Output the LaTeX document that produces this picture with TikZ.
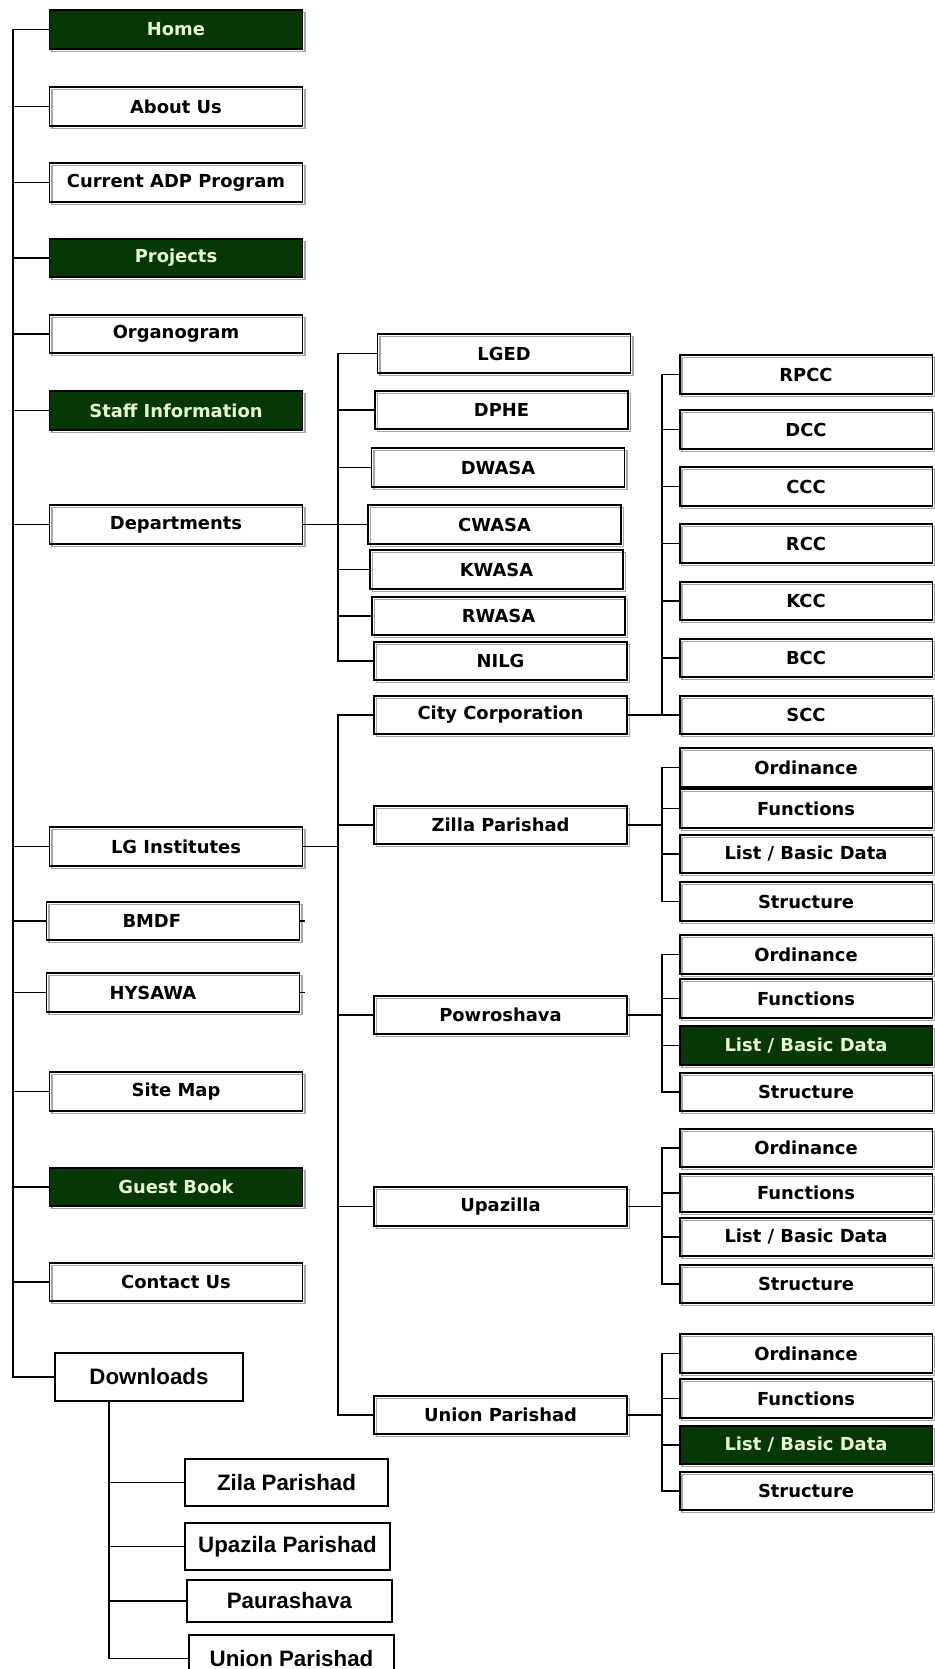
\documentclass[tikz,border=0pt]{standalone}
\usepackage{fontspec}
\setmainfont{DejaVu Sans}
\newfontfamily\dlfont{Liberation Sans}
\definecolor{menugreen}{HTML}{063806}
\definecolor{menutext}{HTML}{E8F6D4}

\begin{document}
\begin{tikzpicture}[x=0.02cm, y=-0.02cm,
    menu/.style={draw=black, line width=1.1pt, minimum width=5.06cm, minimum height=0.77cm,
      inner sep=0pt, font=\fontsize{10.2}{12}\bfseries,
      preaction={draw=black!35, line width=0.8pt, transform canvas={xshift=0.05cm, yshift=-0.05cm}}},
    dark/.style={menu, fill=menugreen, text=menutext},
    plain/.style={draw=black, line width=1.1pt, fill=white, minimum width=4.1cm, minimum height=0.94cm,
      inner sep=0pt, font=\dlfont\fontsize{12.7}{15}\bfseries},
    conn/.style={line width=1.1pt}]
      % 0. page
      \fill[white] (0,0) rectangle (934,1669);
      \useasboundingbox (0,0) rectangle (934,1669);

      % 1. main menu
      \node[dark] (home) at (176,29.5) {Home};
      \node[menu] (about) at (176,106.5) {About Us};
      \node[menu] (adp) at (176,182.5) {Current ADP Program};
      \node[dark] (proj) at (176,258) {Projects};
      \node[menu] (organ) at (176,334) {Organogram};
      \node[dark] (staff) at (176,410.5) {Staff Information};
      \node[menu] (dept) at (176,524.5) {Departments};
      \node[menu] (lginst) at (176,846.5) {LG Institutes};
      \node[menu, text width=5.06cm, align=left] (bmdf) at (173,921) {\hspace*{1.52cm}BMDF};
      \node[menu, text width=5.06cm, align=left] (hysawa) at (173,992.5) {\hspace*{1.26cm}HYSAWA};
      \node[menu] (sitemap) at (176,1091.5) {Site Map};
      \node[dark] (guest) at (176,1187) {Guest Book};
      \node[menu] (contact) at (176,1282) {Contact Us};
      \node[plain, minimum width=3.76cm, minimum height=0.96cm] (dl) at (149,1377) {Downloads};

      % 2. departments
      \node[menu] (lged) at (504,353.5) {LGED};
      \node[menu] (dphe) at (501.5,410) {DPHE};
      \node[menu] (dwasa) at (498,467.5) {DWASA};
      \node[menu] (cwasa) at (494.5,524.5) {CWASA};
      \node[menu] (kwasa) at (496.5,569.5) {KWASA};
      \node[menu] (rwasa) at (498.5,616) {RWASA};
      \node[menu] (nilg) at (500.5,661) {NILG};

      % 3. LG institutes
      \node[menu] (cc) at (500.5,715) {City Corporation};
      \node[menu] (zp) at (500.5,825) {Zilla Parishad};
      \node[menu] (pow) at (500.5,1015) {Powroshava};
      \node[menu] (upz) at (500.5,1206.5) {Upazilla};
      \node[menu] (up) at (500.5,1415) {Union Parishad};

      % 4. city corporations
      \node[menu] (rpcc) at (806,374.5) {RPCC};
      \node[menu] (dcc) at (806,429.5) {DCC};
      \node[menu] (ccc) at (806,486.5) {CCC};
      \node[menu] (rcc) at (806,543.5) {RCC};
      \node[menu] (kcc) at (806,601) {KCC};
      \node[menu] (bcc) at (806,658) {BCC};
      \node[menu] (scc) at (806,715) {SCC};

      % 5. sub pages of the institutes
      \node[menu] (zpord) at (806,767.5) {Ordinance};
      \node[menu] (zpfun) at (806,808.5) {Functions};
      \node[menu] (zplist) at (806,854) {List / Basic Data};
      \node[menu] (zpstr) at (806,901.5) {Structure};
      \node[menu] (poword) at (806,954.5) {Ordinance};
      \node[menu] (powfun) at (806,998.5) {Functions};
      \node[dark] (powlist) at (806,1045.5) {List / Basic Data};
      \node[menu] (powstr) at (806,1092) {Structure};
      \node[menu] (upzord) at (806,1148) {Ordinance};
      \node[menu] (upzfun) at (806,1193) {Functions};
      \node[menu] (upzlist) at (806,1237) {List / Basic Data};
      \node[menu] (upzstr) at (806,1284) {Structure};
      \node[menu] (upord) at (806,1353.5) {Ordinance};
      \node[menu] (upfun) at (806,1398.5) {Functions};
      \node[dark] (uplist) at (806,1445) {List / Basic Data};
      \node[menu] (upstr) at (806,1491) {Structure};

      % 6. downloads
      \node[plain, minimum width=4.06cm] (dzila) at (286.5,1482.5) {Zila Parishad};
      \node[plain] (dupz) at (287.5,1546.5) {Upazila Parishad};
      \node[plain, minimum height=0.84cm] (dpaura) at (289.5,1601) {Paurashava};
      \node[plain] (dunion) at (291.5,1658.5) {Union Parishad};

      % 7. buses
      \coordinate (trunk) at (13,29.5);
      \coordinate (depbus) at (338,353.5);
      \coordinate (lgbus) at (338,715);
      \coordinate (ccbus) at (662,374.5);
      \coordinate (zpbus) at (662,767.5);
      \coordinate (powbus) at (662,954.5);
      \coordinate (upzbus) at (662,1148);
      \coordinate (upbus) at (662,1353.5);
      \coordinate (dlbus) at (109,1401);

      % 8. connectors
      \draw[conn] (home.west) -| (trunk) |- (dl.west);
      \draw[conn] (trunk |- about.west) -- (about.west) (trunk |- adp.west) -- (adp.west)
        (trunk |- proj.west) -- (proj.west) (trunk |- organ.west) -- (organ.west)
        (trunk |- staff.west) -- (staff.west) (trunk |- dept.west) -- (dept.west)
        (trunk |- lginst.west) -- (lginst.west) (trunk |- bmdf.west) -- (bmdf.west)
        (trunk |- hysawa.west) -- (hysawa.west) (trunk |- sitemap.west) -- (sitemap.west)
        (trunk |- guest.west) -- (guest.west) (trunk |- contact.west) -- (contact.west);
      \draw[conn] (bmdf.east) -- ++(5,0) (hysawa.east) -- ++(5,0);

      \draw[conn] (lged.west) -| (depbus) |- (nilg.west);
      \draw[conn] (depbus |- dphe.west) -- (dphe.west) (depbus |- dwasa.west) -- (dwasa.west)
        (dept.east) -- (cwasa.west) (depbus |- kwasa.west) -- (kwasa.west)
        (depbus |- rwasa.west) -- (rwasa.west);

      \draw[conn] (cc.west) -| (lgbus) |- (up.west);
      \draw[conn] (lginst.east) -- (lginst.east -| lgbus) (lgbus |- zp.west) -- (zp.west)
        (lgbus |- pow.west) -- (pow.west) (lgbus |- upz.west) -- (upz.west);

      \draw[conn] (rpcc.west) -| (ccbus) |- (scc.west);
      \draw[conn] (ccbus |- dcc.west) -- (dcc.west) (ccbus |- ccc.west) -- (ccc.west)
        (ccbus |- rcc.west) -- (rcc.west) (ccbus |- kcc.west) -- (kcc.west)
        (ccbus |- bcc.west) -- (bcc.west) (cc.east) -- (scc.west);

      \draw[conn] (zpord.west) -| (zpbus) |- (zpstr.west);
      \draw[conn] (zpbus |- zpfun.west) -- (zpfun.west) (zpbus |- zplist.west) -- (zplist.west)
        (zp.east) -- (zp.east -| zpbus);

      \draw[conn] (poword.west) -| (powbus) |- (powstr.west);
      \draw[conn] (powbus |- powfun.west) -- (powfun.west) (powbus |- powlist.west) -- (powlist.west)
        (pow.east) -- (pow.east -| powbus);

      \draw[conn] (upzord.west) -| (upzbus) |- (upzstr.west);
      \draw[conn] (upzbus |- upzfun.west) -- (upzfun.west) (upzbus |- upzlist.west) -- (upzlist.west)
        (upz.east) -- (upz.east -| upzbus);

      \draw[conn] (upord.west) -| (upbus) |- (upstr.west);
      \draw[conn] (upbus |- upfun.west) -- (upfun.west) (upbus |- uplist.west) -- (uplist.west)
        (up.east) -- (up.east -| upbus);

      \draw[conn] (dlbus) |- (dunion.west);
      \draw[conn] (dlbus |- dzila.west) -- (dzila.west) (dlbus |- dupz.west) -- (dupz.west)
        (dlbus |- dpaura.west) -- (dpaura.west);
    \end{tikzpicture}
\end{document}
